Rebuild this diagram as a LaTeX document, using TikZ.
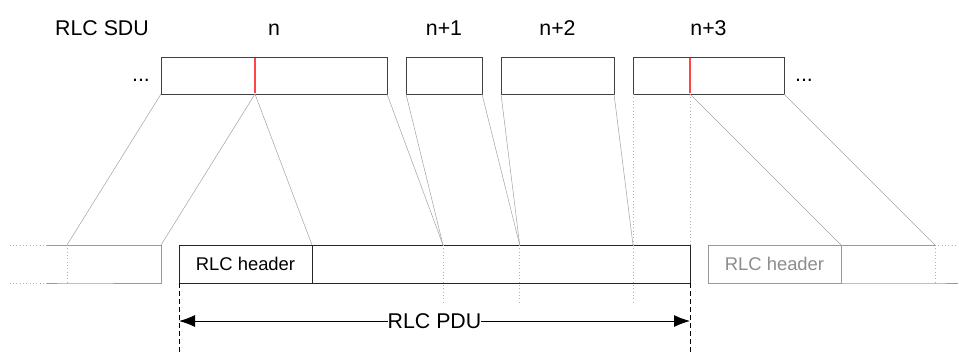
\documentclass[tikz,border=0pt]{standalone}
\usepackage{fontspec}
\setmainfont{Liberation Sans}
\usepackage{xcolor}
\usepackage{tikz}
\usetikzlibrary{arrows.meta, calc}
\def\px{0.75pt}
\definecolor{cutred}{RGB}{255,70,70}
\begin{document}
\begin{tikzpicture}[x=0.75pt, y=-0.75pt]
			\tikzstyle{every node} = [inner sep = 0pt, outer sep = 0pt, anchor = north west]
			\tikzstyle{sdubox} = [draw = black!75, line width = 0.7pt, minimum height = 37*\px]
			\tikzstyle{pdubox} = [draw = black!85, line width = 0.7pt, minimum height = 38*\px]
			\tikzstyle{ghostbox} = [draw = black!40, line width = 0.6pt, minimum height = 38*\px, text = black!45]
			\tikzstyle{lbl} = [anchor = base, font = \fontsize{16}{19}\selectfont]
			\tikzstyle{hdrtxt} = [font = \fontsize{13.8}{16}\selectfont]
			\tikzstyle{map} = [draw = black!35, line width = 0.4pt]
			\tikzstyle{mapdot} = [draw = black!30, line width = 0.5pt, dotted]
			\tikzstyle{splitline} = [draw = cutred, line width = 0.8pt]
			\tikzstyle{limit} = [draw = black, line width = 0.6pt, dash pattern = on 4pt off 2pt]
			\useasboundingbox (0,0) rectangle (959,354);
				% RLC SDUs
				\node[sdubox, minimum width = 226*\px] (sdun) at (161,57) {};
				\node[sdubox, minimum width = 76*\px] (sdun1) at (406,57) {};
				\node[sdubox, minimum width = 113*\px] (sdun2) at (501,57) {};
				\node[sdubox, minimum width = 151*\px] (sdun3) at (633,57) {};
				\node[lbl] (sdu) at (102,35.5) {RLC SDU};
				\node[lbl] (ln) at (sdun.north |- 0,35.5) {n};
				\node[lbl] (ln1) at (sdun1.north |- 0,35.5) {n+1};
				\node[lbl] (ln2) at (sdun2.north |- 0,35.5) {n+2};
				\node[lbl] (ln3) at (sdun3.north |- 0,35.5) {n+3};
				\node[lbl] (dotl) at (141,81) {...};
				\node[lbl] (dotr) at (804,81) {...};
				\coordinate (cutn) at (255,94);
				\coordinate (cutn3) at (690,94);
				% RLC PDU
				\node[pdubox, hdrtxt, minimum width = 133*\px] (hdr) at (179,245) {RLC header};
				\node[pdubox, minimum width = 378*\px] (dat) at (hdr.north east) {};
				\coordinate (cut1) at (443,245);
				\coordinate (cut2) at (519.7,245);
				\coordinate (cut3) at (633,245);
				\foreach \c in {cut1, cut2, cut3}
					\path[mapdot] (\c) -- ++(0,57);
				% previous PDU
				\node[minimum width = 94*\px, minimum height = 38*\px] (gleft) at (67,245) {};
				\path[draw = black!40, line width = 0.6pt] (gleft.north west) ++(-20,0) -- (gleft.north east) --
					(gleft.south east) -- (gleft.south west) -- ++(-20,0);
				\path[mapdot] (gleft.north west) -- (gleft.south west);
				\path[mapdot] (gleft.north west) ++(-20,0) -- ++(-37,0);
				\path[mapdot] (gleft.south west) ++(-20,0) -- ++(-37,0);
				% next PDU
				\node[ghostbox, hdrtxt, minimum width = 133*\px] (ghdr) at (708,245) {RLC header};
				\node[minimum width = 94*\px, minimum height = 38*\px] (gdat) at (ghdr.north east) {};
				\path[draw = black!40, line width = 0.6pt] (gdat.north west) -- (gdat.north east);
				\path[draw = black!40, line width = 0.6pt] (gdat.south west) -- (gdat.south east) -- ++(23,0);
				\path[mapdot] (gdat.north east) -- (gdat.south east);
				\path[mapdot] (gdat.north east) -- ++(23,0);
				% mapping
				\path[map] (sdun.south west) -- (gleft.north west);
				\path[map] (cutn) -- (gleft.north east);
				\path[map] (cutn) -- (hdr.north east);
				\path[map] (sdun.south east) -- (cut1);
				\path[map] (sdun1.south west) -- (cut1);
				\path[map] (sdun1.south east) -- (cut2);
				\path[map] (sdun2.south west) -- (cut2);
				\path[map] (sdun2.south east) -- (cut3);
				\path[mapdot] (sdun3.south west) -- (cut3);
				\path[mapdot] (cutn3) -- (cutn3 |- dat.north);
				\path[map] (cutn3) -- (ghdr.north east);
				\path[map] (sdun3.south east) -- (gdat.north east);
				% SDU segmentation
				\path[splitline] (cutn) ++(0,-0.6) -- ($(cutn |- sdun.north) + (0,0.6)$);
				\path[splitline] (cutn3) ++(0,-0.6) -- ($(cutn3 |- sdun3.north) + (0,0.6)$);
				% PDU size
				\coordinate (endl) at (hdr.south west |- 0,354);
				\coordinate (endr) at (dat.south east |- 0,354);
				\path[limit] (hdr.south west) -- (endl);
				\path[limit] (dat.south east) -- (endr);
				\coordinate (al) at (hdr.west |- 0,321);
				\coordinate (ar) at (dat.east |- 0,321);
				\path[draw, line width = 0.7pt, {Latex[length=12pt, width=9pt]}-{Latex[length=12pt, width=9pt]}] (al) --
					node[anchor = center, fill = white, font = \fontsize{16}{19}\selectfont] (pdu) {RLC PDU} (ar);
\end{tikzpicture}
\end{document}
